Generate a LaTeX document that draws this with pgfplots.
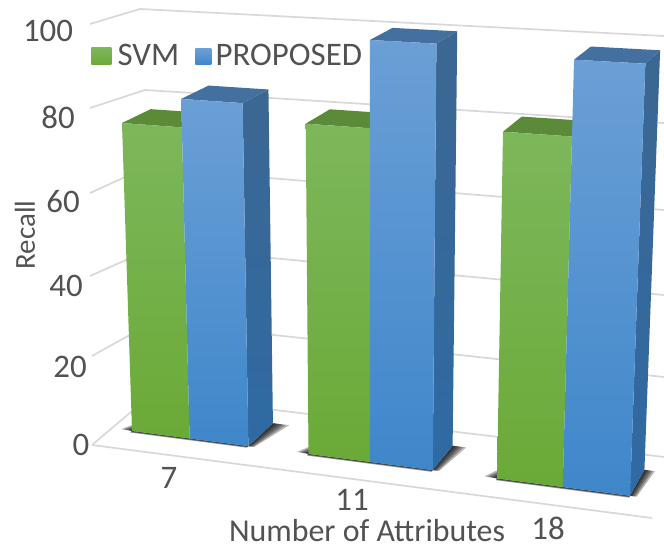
\documentclass[border=0pt]{standalone}
\usepackage{pgfplots}
\usepackage{pgfplotstable}
\usepackage{fontspec}
\setmainfont{Carlito}
\pgfplotsset{compat=1.18}

% Recall per group: position along the category axis, then one column per method
\pgfplotstableread{
pos svm proposed
0   75.5 82.1
3   78.4 98.0
6   79.7 96.2
}\recalltable

\definecolor{txt}{HTML}{525252}
\definecolor{gridc}{HTML}{D8D8D8}
\definecolor{svmA}{HTML}{7DB75B}
\definecolor{svmB}{HTML}{6AAA37}
\definecolor{svmT}{HTML}{5B8A38}
\definecolor{propA}{HTML}{6B9FD6}
\definecolor{propB}{HTML}{3F87CA}
\definecolor{propT}{HTML}{44709F}
\definecolor{sideA}{HTML}{3C6792}
\definecolor{sideB}{HTML}{2E6AA3}

\tikzset{
  declare function={
    projden(\u,\d,\v)=1-0.01061*\u+0.029*\d-0.0533*\v/100;
    projx(\u,\d,\v)=(132+55.57*\u+31.9*\d-0.1977*\v)/projden(\u,\d,\v);
    projy(\u,\d,\v)=(431+2.843*\u-10.15*\d-4.1446*\v)/projden(\u,\d,\v);
  },
  lbl/.style={text=txt,font=\fontsize{33}{33}\selectfont,inner sep=0pt,anchor=center},
}
\pgfplotsset{
  gridline/.style={gridc,line width=1.7pt,no markers,forget plot},
  svmfront/.style={draw=none,no markers,top color=svmA,bottom color=svmB},
  svmtop/.style={draw=none,fill=svmT,no markers},
  propfront/.style={draw=none,no markers,top color=propA,bottom color=propB},
  propside/.style={draw=none,no markers,top color=sideA,bottom color=sideB},
  proptop/.style={draw=none,fill=propT,no markers},
  shadowA/.style={draw=none,fill=black,fill opacity=0.27,no markers},
}

% Adds one projected corner "u,d,v" to the face being built
\newcommand\addcorner[1]{%
  \pgfmathsetmacro\cx{projx(#1)}%
  \pgfmathsetmacro\cy{projy(#1)}%
  \xdef\facepath{\facepath (\cx,\cy)}}
% A four-cornered face of a bar, given in chart coordinates
\newcommand\quadface[5]{%
  \gdef\facepath{}%
  \addcorner{#2}\addcorner{#3}\addcorner{#4}\addcorner{#5}\addcorner{#2}%
  \edef\temp{\noexpand\addplot[#1,forget plot] coordinates {\facepath};}\temp}
% One soft layer of a group's floor shadow: wedges at both ends and a strip in front
\newcommand\shadowlayer[1]{%
  \pgfmathsetmacro\sr{\uc+#1*(0.28-0.02*\ua)}%
  \pgfmathsetmacro\srn{\uc+#1*0.1}%
  \pgfmathsetmacro\sl{\ua-#1*0.2}%
  \pgfmathsetmacro\sf{-0.07*#1}%
  \pgfmathsetmacro\sb{0.5*#1}%
  \quadface{shadowA}{\uc,0,0}{\srn,0,0}{\sr,1,0}{\uc,1,0}%
  \quadface{shadowA}{\ua,0,0}{\sl,0.02,0}{\ua,\sb,0}{\ua,\sb,0}%
  \quadface{shadowA}{\ua,0,0}{\uc,0,0}{\uc,\sf,0}{\ua,\sf,0}}

\begin{document}
\begin{tikzpicture}
\begin{axis}[
  scale only axis,width=664bp,height=546bp,
  xmin=0,xmax=664,ymin=0,ymax=546,y dir=reverse,
  ticks=none,axis line style={draw=none},
  clip=true,
  legend style={at={(axis cs:88,42)},anchor=north west,draw=none,fill=none,
    legend columns=2,font=\fontsize{33}{33}\selectfont,text=txt,inner sep=0pt,
    /tikz/every even column/.append style={column sep=12bp}},
]
% Gridlines of the walls and the floor
\addplot[gridline] coordinates {(90,24) (140,9) (664,36)};
\addplot[gridline] coordinates {(90,108) (145,90) (664,123)};
\addplot[gridline] coordinates {(90,193) (145,168) (664,210)};
\addplot[gridline] coordinates {(90,276) (155,247) (664,295)};
\addplot[gridline] coordinates {(92,356) (153,322) (664,377)};
\addplot[gridline] coordinates {(92,445) (151,395) (664,457)};
\addplot[gridline] coordinates {(92,445) (652,518)};
% Three groups, each with a floor shadow and two bars
\pgfplotsinvokeforeach{0,1,2}{
  \pgfplotstablegetelem{#1}{pos}\of\recalltable \pgfmathsetmacro\ua{\pgfplotsretval}
  \pgfplotstablegetelem{#1}{svm}\of\recalltable \edef\vs{\pgfplotsretval}
  \pgfplotstablegetelem{#1}{proposed}\of\recalltable \edef\vp{\pgfplotsretval}
  \pgfmathsetmacro\ub{\ua+1}
  \pgfmathsetmacro\uc{\ua+2}
  \shadowlayer{1}
  \shadowlayer{0.8}
  \shadowlayer{0.6}
  \shadowlayer{0.4}
  \shadowlayer{0.2}
  \quadface{svmtop}{\ua,0,\vs}{\ub,0,\vs}{\ub,1,\vs}{\ua,1,\vs}
  \quadface{svmfront}{\ua,0,\vs}{\ub,0,\vs}{\ub,0,0}{\ua,0,0}
  \quadface{propside}{\uc,0,\vp}{\uc,1,\vp}{\uc,1,0}{\uc,0,0}
  \quadface{proptop}{\ub,0,\vp}{\uc,0,\vp}{\uc,1,\vp}{\ub,1,\vp}
  \quadface{propfront}{\ub,0,\vp}{\uc,0,\vp}{\uc,0,0}{\ub,0,0}
}
% Legend
\addlegendimage{legend image code/.code={\path[draw=none,top color=svmA,bottom color=svmB] (3bp,-9bp) rectangle (23bp,8bp); \path (0bp,0bp) (27bp,0bp);}}
\addlegendentry{SVM}
\addlegendimage{legend image code/.code={\path[draw=none,top color=propA,bottom color=propB] (2bp,-9bp) rectangle (18bp,7bp); \path (0bp,0bp) (20bp,0bp);}}
\addlegendentry{PROPOSED}
% Value labels and axis titles
\node[lbl] at (axis cs:48,31) {100};
\node[lbl] at (axis cs:58,117) {80};
\node[lbl] at (axis cs:63,202) {60};
\node[lbl] at (axis cs:66,286) {40};
\node[lbl] at (axis cs:70,367) {20};
\node[lbl] at (axis cs:81,445) {0};
\node[lbl] at (axis cs:169,478) {7};
\node[lbl] at (axis cs:352,500) {11};
\node[lbl] at (axis cs:548,528) {18};
\node[lbl,anchor=base,font=\fontsize{32}{32}\selectfont] at (axis cs:367,541) {Number of Attributes};
\node[lbl,rotate=90,font=\fontsize{29}{29}\selectfont] at (axis cs:25,235) {Recall};
\end{axis}
\end{tikzpicture}
\end{document}
